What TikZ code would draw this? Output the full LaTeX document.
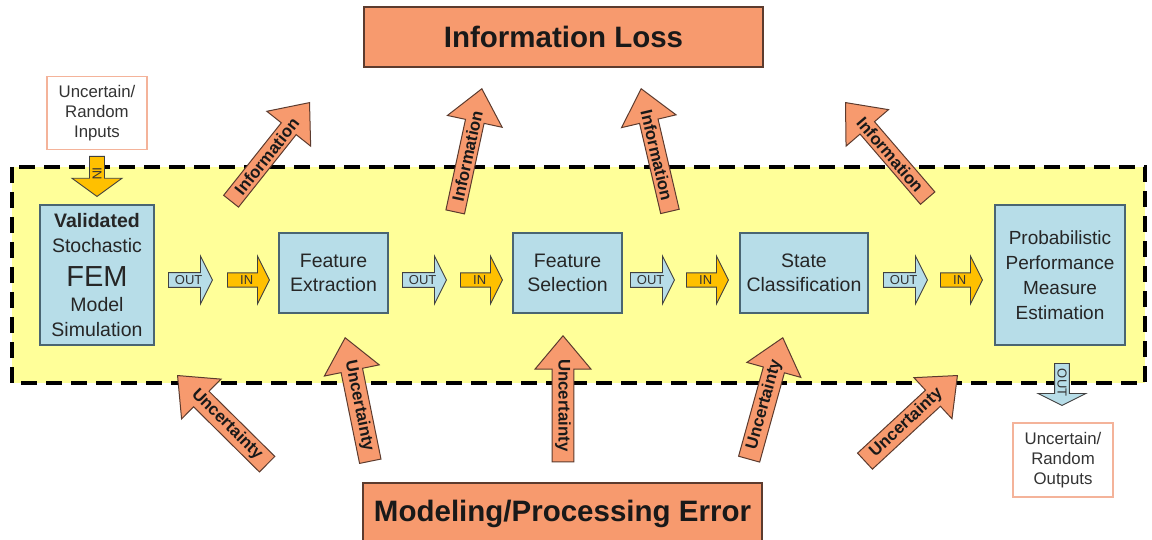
\documentclass[tikz,border=0pt]{standalone}
\usepackage{fontspec}
\setmainfont{Liberation Sans}
\usepackage{tikz}
\usetikzlibrary{shapes,shapes.arrows,arrows,positioning,calc}

\definecolor{bgyellow}{HTML}{FFFF99}
\definecolor{boxblue}{HTML}{B7DDE8}
\definecolor{boxline}{HTML}{4A6572}
\definecolor{lossorange}{HTML}{F79A6E}
\definecolor{lossline}{HTML}{5C3B2E}
\definecolor{ingold}{HTML}{FFC000}
\definecolor{ioline}{HTML}{F4B39A}

\begin{document}
\begin{tikzpicture}[
    x=1pt, y=-1pt,
    procbox/.style={rectangle, draw=boxline, fill=boxblue, line width=1.4pt, align=center, inner sep=0pt, text=black!85, font=\fontsize{19.5}{24}\selectfont},
    errbox/.style={rectangle, draw=lossline, fill=lossorange, line width=1.2pt, inner sep=0pt, minimum width=399pt, minimum height=60pt, text=black!90, font=\bfseries\fontsize{29.5}{34}\selectfont},
    iobox/.style={rectangle, draw=ioline, fill=white, line width=1.2pt, align=center, inner sep=0pt, minimum width=100pt, minimum height=73pt, text=black!80, font=\fontsize{16.8}{20}\selectfont},
    flowarrow/.style={single arrow, draw=black!75, line width=0.9pt, inner sep=0pt, minimum width=48pt, single arrow head extend=11.5pt, single arrow tip angle=127, anchor=tail, text=black!80, font=\fontsize{13}{13}\selectfont},
    outarrow/.style={flowarrow, fill=boxblue, minimum height=44pt},
    inarrow/.style={flowarrow, fill=ingold, minimum height=42pt},
    bigarrow/.style={single arrow, draw=lossline, fill=lossorange, line width=1pt, inner sep=0pt, minimum height=126pt, minimum width=56pt, single arrow head extend=13pt, single arrow tip angle=80, anchor=tip, text=black!90, font=\bfseries\fontsize{16.8}{17}\selectfont},
    backarrow/.style={bigarrow, shape border rotate=180}
]
    \useasboundingbox (0,0) rectangle (1152,540);

    % processing chain area
    \draw[fill=bgyellow, line width=4pt, dash pattern=on 16pt off 9pt] (12,167) rectangle (1145,383);

    \node[errbox] (infoloss) at (563.5,37) {Information Loss};
    \node[errbox, minimum height=62pt] (modelerr) at (562.5,514) {Modeling/Processing Error};

    \node[iobox] (inputs) at (97,113) {Uncertain/\\Random\\Inputs};
    \node[iobox, minimum height=74pt] (outputs) at (1063,460) {Uncertain/\\Random\\Outputs};

    \node[procbox, minimum width=114pt, minimum height=140pt, font=\fontsize{19.5}{25}\selectfont] (fem) at (97,275)
        {\textbf{Validated}\\Stochastic\\[9pt]{\fontsize{29}{34}\selectfont FEM}\\Model\\Simulation};
    \node[procbox, minimum width=109pt, minimum height=80pt] (featext) at (333.5,273) {Feature\\Extraction};
    \node[procbox, minimum width=109pt, minimum height=80pt] (featsel) at (567.5,273) {Feature\\Selection};
    \node[procbox, minimum width=128pt, minimum height=80pt] (stateclass) at (804,273) {State\\Classification};
    \node[procbox, minimum width=130pt, minimum height=140pt, font=\fontsize{19}{25}\selectfont] (perfest) at (1060,275)
        {Probabilistic\\Performance\\Measure\\Estimation};

    % IN / OUT ports
    \node[inarrow, rotate=-90, minimum height=40pt, minimum width=50pt, single arrow tip angle=108] (femin) at (97,156) {IN};
    \node[outarrow] (femout) at (168,280) {OUT};
    \node[inarrow] (extin) at (227,280) {IN};
    \node[outarrow] (extout) at (402,280) {OUT};
    \node[inarrow] (selin) at (460,280) {IN};
    \node[outarrow] (selout) at (630,280) {OUT};
    \node[inarrow] (clsin) at (686,280) {IN};
    \node[outarrow] (clsout) at (883,280) {OUT};
    \node[inarrow] (estin) at (940,280) {IN};
    \node[outarrow, rotate=-90, minimum height=42pt] (estout) at (1062,363) {OUT};

    % information leaving the chain
    \node[bigarrow, rotate=51.5] (info1) at (310,102) {Information};
    \node[bigarrow, rotate=77.8] (info2) at (482,88) {Information};
    \node[backarrow, rotate=-76.8] (info3) at (641,88) {Information};
    \node[backarrow, rotate=-49.3] (info4) at (845,102) {Information};

    % uncertainty entering the chain
    \node[backarrow, rotate=-44.7] (unc1) at (177,375) {Uncertainty};
    \node[backarrow, rotate=-78.5] (unc2) at (345,337) {Uncertainty};
    \node[backarrow, rotate=-90] (unc3) at (563,335) {Uncertainty};
    \node[bigarrow, rotate=74.5] (unc4) at (783,337) {Uncertainty};
    \node[bigarrow, rotate=42.8] (unc5) at (958,375) {Uncertainty};
\end{tikzpicture}
\end{document}
